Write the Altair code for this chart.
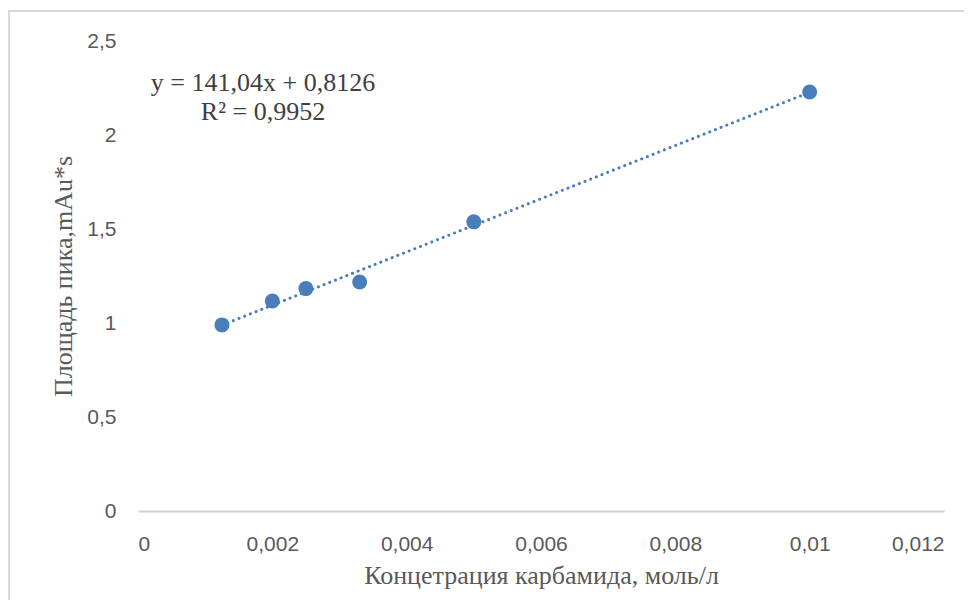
import altair as alt
import pandas as pd

conc = [0.00125, 0.002, 0.0025, 0.0033, 0.005, 0.01]
area = [0.99, 1.117, 1.183, 1.218, 1.538, 2.229]
eq_lines = ["y = 141,04x + 0,8126", "R² = 0,9952"]
x_ticks = [0, 0.002, 0.004, 0.006, 0.008, 0.01, 0.012]
y_ticks = [0, 0.5, 1, 1.5, 2, 2.5]

df = pd.DataFrame({"conc": conc, "area": area})

BLUE = "#4a7ebb"
GRAY = "#595959"

xs = alt.Scale(domain=[0, 0.012], nice=False)
ys = alt.Scale(domain=[0, 2.5], nice=False)

x = alt.X("conc:Q", scale=xs,
          axis=alt.Axis(values=x_ticks,
                        labelExpr="replace(format(datum.value, '~g'), '.', ',')",
                        title="Концетрация карбамида, моль/л",
                        grid=False, ticks=False, domain=True, domainColor="#d0d0d0",
                        domainWidth=2,
                        labelPadding=22, titlePadding=8))
y = alt.Y("area:Q", scale=ys,
          axis=alt.Axis(values=y_ticks,
                        labelExpr="replace(format(datum.value, '~g'), '.', ',')",
                        title="Площадь пика,mAu*s",
                        grid=False, ticks=False, domain=False, labelPadding=22,
                        titlePadding=10))

border = alt.Chart(pd.DataFrame({"a": [0]})).mark_rect(
    fill="transparent", stroke="#d9d9d9", strokeWidth=2, clip=False
).encode(x=alt.value(-129), x2=alt.value(900), y=alt.value(-30), y2=alt.value(700))

trend = alt.Chart(df).transform_regression("conc", "area").mark_line(
    color=BLUE, strokeWidth=3, strokeDash=[0.1, 6], strokeCap="round"
).encode(x=x, y=y)

points = alt.Chart(df).mark_circle(size=225, color=BLUE, opacity=1).encode(x=x, y=y)

text1 = alt.Chart(pd.DataFrame({"t": [eq_lines[0]]})).mark_text(
    font="Liberation Serif", fontSize=26, color="#404040", align="center"
).encode(x=alt.value(125), y=alt.value(42), text="t:N")
text2 = alt.Chart(pd.DataFrame({"t": [eq_lines[1]]})).mark_text(
    font="Liberation Serif", fontSize=26, color="#404040", align="center"
).encode(x=alt.value(125), y=alt.value(71), text="t:N")

chart = alt.layer(border, trend, points, text1, text2).properties(
    width=806, height=470,
    autosize=alt.AutoSizeParams(type="none"),
    padding={"left": 130, "top": 33, "right": 20, "bottom": 89},
).configure_view(stroke=None).configure_axis(
    labelFont="Liberation Sans", labelFontSize=21, labelColor=GRAY,
    titleFont="Liberation Serif", titleFontSize=26, titleColor=GRAY,
    titleFontWeight="normal",
)

chart.save("out.html", embed_options={"renderer": "svg", "actions": False})
